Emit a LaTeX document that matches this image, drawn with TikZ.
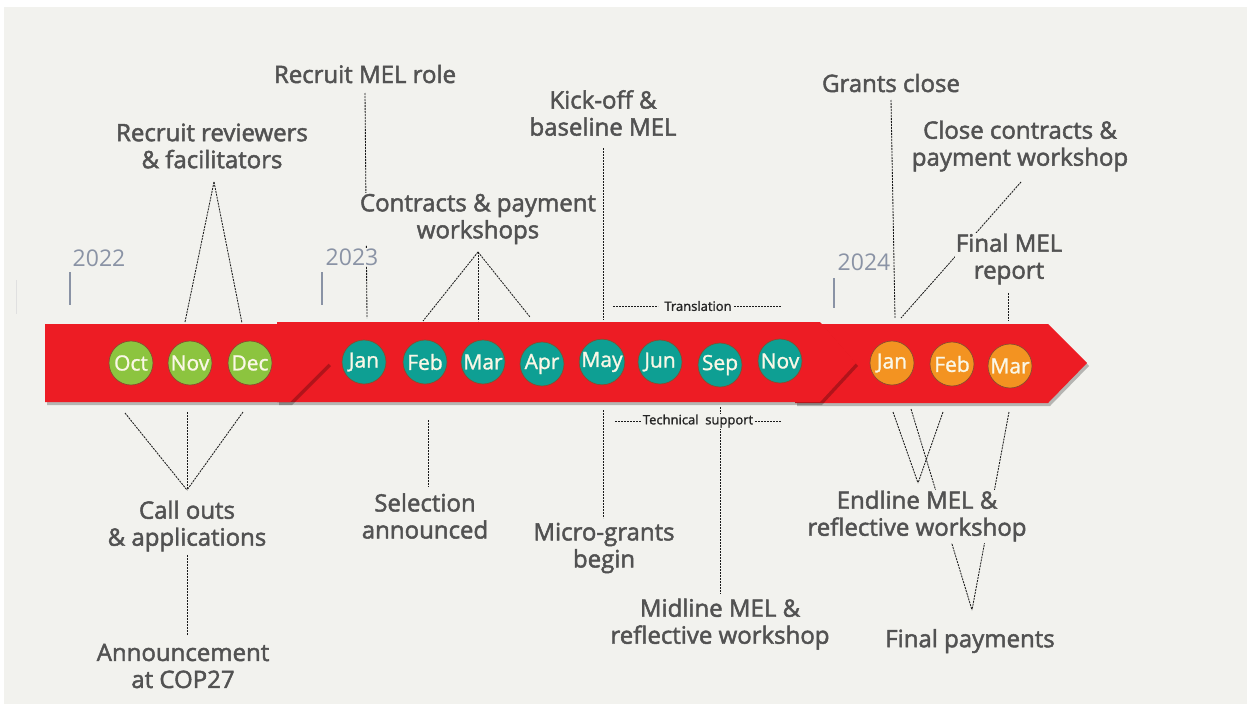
\documentclass[tikz,border=0pt]{standalone}
\usepackage{fontspec}
\setmainfont{Open Sans}
\newfontfamily\oslab[FakeBold=2]{Open Sans}
\newfontfamily\osans{Open Sans}
\newfontfamily\ossmall[FakeBold=1.5]{Open Sans}
\newfontfamily\osmon[FakeBold=1.2]{Open Sans}
\usetikzlibrary{shadows}
\definecolor{bg}{HTML}{F2F2EE}
\definecolor{arrred}{HTML}{ED1C24}
\definecolor{grn}{HTML}{8CC43F}
\definecolor{teal}{HTML}{0E9F93}
\definecolor{org}{HTML}{F39321}
\definecolor{labc}{HTML}{525252}
\definecolor{yrc}{HTML}{8A93A5}
\definecolor{dashc}{HTML}{1A1A1A}
\definecolor{rimc}{HTML}{8A4B2E}
\definecolor{montext}{HTML}{FAF7E6}
\begin{document}
\begin{tikzpicture}[x=1pt,y=-1pt,
  lbl/.style={font=\oslab\fontsize{24}{27}\selectfont, text=labc, fill=bg, inner sep=1pt, align=center},
  yr/.style={font=\osans\fontsize{23}{23}\selectfont, text=yrc, fill=bg, inner sep=1pt},
  tick/.style={draw=yrc, line width=1.4pt},
  conn/.style={draw=dashc, line width=0.85pt, dash pattern=on 2pt off 1pt},
  mon/.style={circle, minimum size=44pt, inner sep=0pt, draw=rimc, line width=0.7pt, text=montext, font=\osmon\fontsize{21}{21}\selectfont},
  chev/.style={fill=arrred, drop shadow={shadow xshift=2pt, shadow yshift=-3pt, opacity=0.25, fill=black}},
  small/.style={font=\ossmall\fontsize{13}{13}\selectfont, text=black!85, fill=bg, inner sep=1pt}
]
\useasboundingbox (0,0) rectangle (1247,704);
\fill[white] (0,0) rectangle (1247,704);
\fill[bg] (4,7) rectangle (1247,704);
\draw[black!12, line width=0.6pt] (16,280) -- (16,314);

% chevrons
\path[chev] (795,324) -- (1048,324) -- (1087,363) -- (1048,403) -- (795,403) -- cycle;
\path[chev] (277,322) -- (820,322) -- (856,363) -- (820,402) -- (277,402) -- cycle;
\path[chev] (45,324) -- (290,324) -- (329,363) -- (290,402) -- (45,402) -- cycle;

% months
\node[mon, fill=grn] (oct) at (131,363) {Oct};
\node[mon, fill=grn] (nov22) at (190,363) {Nov};
\node[mon, fill=grn] (dec) at (250,363) {Dec};
\node[mon, fill=teal] (jan23) at (364,362) {Jan};
\node[mon, fill=teal] (feb23) at (425,362) {Feb};
\node[mon, fill=teal] (mar23) at (483,362) {Mar};
\node[mon, fill=teal] (apr) at (542,364) {Apr};
\node[mon, fill=teal] (may) at (602,362) {May};
\node[mon, fill=teal] (jun) at (660,362) {Jun};
\node[mon, fill=teal] (sep) at (720,365) {Sep};
\node[mon, fill=teal] (nov23) at (780,361) {Nov};
\node[mon, fill=org] (jan24) at (892,363) {Jan};
\node[mon, fill=org] (feb24) at (952,364) {Feb};
\node[mon, fill=org] (mar24) at (1010,366) {Mar};

% coordinates on the band edges
\coordinate (rmelE) at (367,318);
\coordinate (rrevA) at (214,182);
\coordinate (rrevL) at (185,322);
\coordinate (rrevR) at (242,323);
\coordinate (cpwA) at (478,252);
\coordinate (cpwL) at (423,321);
\coordinate (cpwM) at (478,321);
\coordinate (cpwR) at (530,317);
\coordinate (kickE) at (603,320);
\coordinate (gcE) at (895,318);
\coordinate (ccpS) at (1021,182);
\coordinate (ccpE) at (901,318);
\coordinate (fmrE) at (1008,321);
\coordinate (caoA) at (187,490);
\coordinate (caoL) at (125,413);
\coordinate (caoM) at (187,412);
\coordinate (caoR) at (243,412);
\coordinate (selS) at (428,420);
\coordinate (mgbS) at (603,410);
\coordinate (midS) at (720,407);
\coordinate (endA) at (918,483);
\coordinate (endL) at (893,412);
\coordinate (endR) at (943,412);
\coordinate (fpA) at (972,610);
\coordinate (fpL) at (911,409);
\coordinate (fpR) at (1009,412);
\coordinate (trL1) at (613,306);
\coordinate (trL2) at (658,306);
\coordinate (trR1) at (734,306);
\coordinate (trR2) at (781,306);
\coordinate (tsL1) at (615,421);
\coordinate (tsL2) at (642,421);
\coordinate (tsR1) at (755,421);
\coordinate (tsR2) at (781,421);

% connectors (drawn before the labels so the labels mask them)
\draw[conn] (365,93) -- (rmelE);
\draw[conn] (rrevA) -- (rrevL);
\draw[conn] (rrevA) -- (rrevR);
\draw[conn] (cpwA) -- (cpwL);
\draw[conn] (cpwA) -- (cpwM);
\draw[conn] (cpwA) -- (cpwR);
\draw[conn] (603,148) -- (kickE);
\draw[conn] (891,100) -- (gcE);
\draw[conn] (ccpS) -- (ccpE);
\draw[conn] (1008,293) -- (fmrE);
\draw[conn] (caoL) -- (caoA);
\draw[conn] (caoM) -- (caoA);
\draw[conn] (caoR) -- (caoA);
\draw[conn] (187,555) -- (187,635);
\draw[conn] (selS) -- (428,487);
\draw[conn] (mgbS) -- (603,518);
\draw[conn] (midS) -- (720,594);
\draw[conn] (endL) -- (endA);
\draw[conn] (endR) -- (endA);
\draw[conn] (fpL) -- (fpA);
\draw[conn] (fpR) -- (fpA);
\draw[conn] (trL1) -- (trL2);
\draw[conn] (trR1) -- (trR2);
\draw[conn] (tsL1) -- (tsL2);
\draw[conn] (tsR1) -- (tsR2);

% year ticks
\draw[tick] (70,272) -- (70,305);
\draw[tick] (322,272) -- (322,305);
\draw[tick] (834,278) -- (834,308);
\node[yr] (y22) at (99,258) {2022};
\node[yr] (y23) at (352,257) {2023};
\node[yr] (y24) at (864,262) {2024};

% labels
\node[lbl] (rmel) at (365,74) {Recruit MEL role};
\node[lbl] (rrev) at (212,146) {Recruit reviewers\\\& facilitators};
\node[lbl] (cpw) at (478,219) {Contracts \& payment\\workshops};
\node[lbl] (kick) at (603,113) {Kick-off \&\\baseline MEL};
\node[lbl] (gc) at (891,83) {Grants close};
\node[lbl] (ccp) at (1020,146) {Close contracts \&\\payment workshop};
\node[lbl] (fmr) at (1009,259) {Final MEL\\report};
\node[lbl] (cao) at (187,526) {Call outs\\\& applications};
\node[lbl] (ann) at (183,666) {Announcement\\at COP27};
\node[lbl] (sel) at (425,516) {Selection\\announced};
\node[lbl] (mgb) at (604,548) {Micro-grants\\begin};
\node[lbl] (mid) at (720,624) {Midline MEL \&\\reflective workshop};
\node[lbl] (endl) at (917,516) {Endline MEL \&\\reflective workshop};
\node[lbl] (fp) at (970,641) {Final payments};
\node[small] (tr) at (698,306) {Translation};
\node[small] (ts) at (698,421) {Technical\ \ support};
\end{tikzpicture}
\end{document}
